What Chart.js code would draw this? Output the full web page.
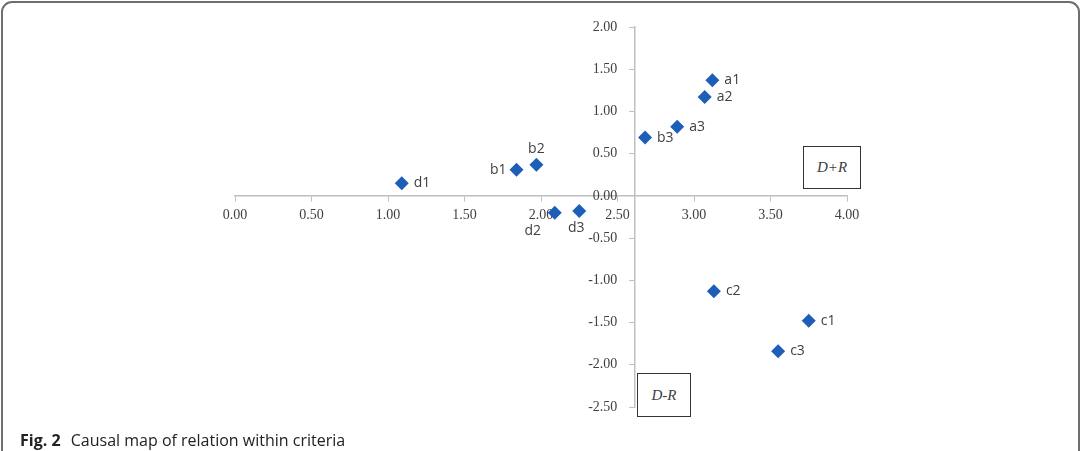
<!DOCTYPE html>
<html>
<head>
<meta charset="utf-8">
<script src="https://cdn.jsdelivr.net/npm/chart.js@4.4.1/dist/chart.umd.min.js"></script>
<style>
    html, body { margin: 0; padding: 0; background: #fff; }
    body { width: 1081px; height: 451px; position: relative; overflow: hidden; }
    #frame {
        position: absolute; left: 1px; top: 1px; width: 1075px; height: 470px;
        border: 2px solid #6e6e6e; border-radius: 11px;
    }
    #wrap { position: absolute; left: 0; top: 0; width: 1081px; height: 451px; }
    .box {
        position: absolute; border: 1.5px solid #333; background: #fff;
        font-family: "Liberation Serif", serif; font-style: italic; font-size: 15px; color: #404040;
        display: flex; align-items: center; justify-content: center;
    }
    #caption {
        position: absolute; left: 20px; top: 429px;
        font-family: "Open Sans", sans-serif; font-size: 16px; color: #222;
    }
    #caption b { font-weight: 700; margin-right: 6px; }
</style>
</head>
<body>
<div id="frame"></div>
<div id="wrap"><canvas id="causalChart" width="1081" height="451"></canvas></div>
<div class="box" style="left:803px; top:146px; width:56px; height:41px;">D+R</div>
<div class="box" style="left:637px; top:373px; width:52px; height:42px;">D-R</div>
<div id="caption"><b>Fig. 2</b> Causal map of relation within criteria</div>
<script>
// criteria and their (D+R, D-R) values
const labels = ['a1', 'a2', 'a3', 'b1', 'b2', 'b3', 'c1', 'c2', 'c3', 'd1', 'd2', 'd3'];
const dPlusR = [3.12, 3.07, 2.89, 1.84, 1.97, 2.68, 3.75, 3.13, 3.55, 1.09, 2.09, 2.25];
const dMinusR = [1.37, 1.17, 0.82, 0.31, 0.37, 0.69, -1.48, -1.13, -1.84, 0.15, -0.20, -0.18];
const xTicks = [0, 0.5, 1, 1.5, 2, 2.5, 3, 3.5, 4];
const yTicks = [2, 1.5, 1, 0.5, 0, -0.5, -1, -1.5, -2, -2.5];
const yAxisAt = 2.61; // where vertical axis crosses

// which side the label goes on
const labelSide = ['right', 'right', 'right', 'left', 'top', 'right', 'right', 'right', 'right', 'right', 'bottomleft', 'bottom'];

const pointLabels = {
    id: 'pointLabels',
    afterDatasetsDraw(chart) {
        const ctx = chart.ctx;
        const meta = chart.getDatasetMeta(0);
        ctx.save();
        ctx.font = '14px "Open Sans", sans-serif';
        ctx.fillStyle = '#404040';
        ctx.textBaseline = 'middle';
        meta.data.forEach((pt, i) => {
            let x = pt.x, y = pt.y;
            const side = labelSide[i];
            if (side === 'right') { ctx.textAlign = 'left'; x += 12; }
            else if (side === 'left') { ctx.textAlign = 'right'; x -= 10; }
            else if (side === 'top') { ctx.textAlign = 'center'; y -= 16; }
            else if (side === 'bottom') { ctx.textAlign = 'center'; x -= 3; y += 17; }
            else if (side === 'bottomleft') { ctx.textAlign = 'center'; x -= 22; y += 18; }
            ctx.fillText(labels[i], x, y);
        });
        ctx.restore();
    }
};

// y tick labels sit a bit away from the crossing axis (chart.js puts them right on it)
const yTickLabels = {
    id: 'yTickLabels',
    afterDraw(chart) {
        const ctx = chart.ctx;
        const yScale = chart.scales.y;
        const axisX = chart.scales.x.getPixelForValue(yAxisAt);
        ctx.save();
        ctx.font = '14px "Liberation Serif", serif';
        ctx.fillStyle = '#404040';
        ctx.textAlign = 'right';
        ctx.textBaseline = 'middle';
        yTicks.forEach((v) => {
            ctx.fillText(v.toFixed(2), axisX - 17, yScale.getPixelForValue(v));
        });
        ctx.restore();
    }
};

const points = dPlusR.map((v, i) => ({ x: v, y: dMinusR[i] }));

const tickFont = { family: '"Liberation Serif", serif', size: 14 };

new Chart(document.getElementById('causalChart').getContext('2d'), {
    type: 'scatter',
    data: {
        datasets: [{
            label: 'criteria',
            data: points,
            pointStyle: 'rectRot',
            pointRadius: 7,
            pointHoverRadius: 7,
            backgroundColor: '#1d5fb8',
            borderColor: '#1d5fb8',
            borderWidth: 0
        }]
    },
    options: {
        responsive: false,
        animation: false,
        layout: { padding: { left: 235, right: 234, top: 27, bottom: 44 } },
        plugins: {
            legend: { display: false },
            tooltip: { enabled: false }
        },
        scales: {
            x: {
                type: 'linear',
                min: 0, max: 4,
                position: { y: 0 },
                afterBuildTicks: (axis) => { axis.ticks = xTicks.map(v => ({ value: v })); },
                border: { display: true, color: '#c0c0c0', width: 1.5 },
                grid: { drawOnChartArea: false, drawTicks: true, tickLength: 5, color: '#c0c0c0' },
                ticks: {
                    font: tickFont, color: '#404040', padding: 6, maxRotation: 0,
                    callback: (v) => v.toFixed(2)
                }
            },
            y: {
                type: 'linear',
                min: -2.5, max: 2,
                position: { x: yAxisAt },
                afterBuildTicks: (axis) => { axis.ticks = yTicks.map(v => ({ value: v })); },
                border: { display: true, color: '#c0c0c0', width: 1.5 },
                grid: { drawOnChartArea: false, drawTicks: true, tickLength: 5, color: '#c0c0c0' },
                ticks: { display: false }
            }
        }
    },
    plugins: [pointLabels, yTickLabels]
});
</script>
</body>
</html>
